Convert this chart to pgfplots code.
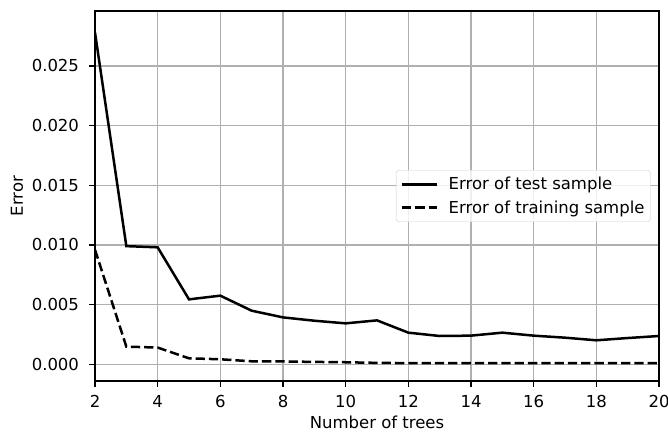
\documentclass[border=0pt]{standalone}
\usepackage{fontspec}
\setmainfont{DejaVu Sans}
\usepackage{pgfplots}
\pgfplotsset{compat=1.18}

\definecolor{gridgray}{HTML}{B0B0B0}
\definecolor{legedge}{HTML}{CCCCCC}

\pgfplotstableread{
n test training
2 0.0278 0.0096
3 0.0099 0.00148
4 0.0098 0.0014
5 0.00544 0.0005
6 0.00575 0.00042
7 0.00449 0.00025
8 0.00393 0.00024
9 0.00365 0.0002
10 0.00343 0.00017
11 0.00368 0.00012
12 0.00265 0.0001
13 0.00237 0.0001
14 0.0024 0.0001
15 0.00265 0.0001
16 0.0024 0.0001
17 0.00223 0.0001
18 0.00201 0.0001
19 0.0022 0.0001
20 0.00237 0.0001
}\errtable

\newcommand{\lblfont}{\fontsize{16.5bp}{19bp}\selectfont}

\begin{document}
\begin{tikzpicture}
\begin{axis}[
  at={(0,0)}, anchor=south west,
  scale only axis,
  width=564bp, height=370bp,
  xmin=2, xmax=20,
  ymin=-0.0014, ymax=0.0296,
  xtick={2,4,...,20},
  ytick={0,0.005,0.01,0.015,0.02,0.025},
  xtick pos=bottom, ytick pos=left,
  scaled y ticks=false,
  /pgf/number format/assume math mode=true,
  yticklabel style={/pgf/number format/fixed, /pgf/number format/fixed zerofill,
    /pgf/number format/precision=3},
  tick label style={font=\lblfont, inner sep=0pt},
  xticklabel style={anchor=north, yshift=-8bp},
  yticklabel style={anchor=east, xshift=-10bp},
  tick align=outside,
  major tick length=5.8bp,
  tick style={black, line width=1.33bp},
  axis line style={black, line width=1.33bp},
  grid=major,
  grid style={gridgray, line width=1.33bp},
  xlabel={Number of trees},
  ylabel={Error},
  label style={font=\lblfont},
  xlabel style={at={(axis description cs:0.5,0)}, anchor=base, yshift=-47bp},
  ylabel style={at={(axis description cs:0,0.5)}, anchor=center, yshift=78bp},
  legend cell align=left,
  legend style={at={(axis description cs:1,0.5)}, anchor=east, xshift=-8.3bp,
    draw=legedge, rounded corners=3bp,
    fill=white, fill opacity=0.8, text opacity=1,
    font=\lblfont, inner xsep=4.5bp, inner ysep=5.5bp, row sep=6.5bp,
    nodes={inner sep=1.5bp}},
  legend image code/.code={\draw[#1, line width=2.8bp, sharp corners] (0bp,0bp) -- (35bp,0bp); \path (44bp,0bp);},
]
\addplot[black, line width=2.5bp] table[x=n, y=test] {\errtable};
\addlegendentry{Error of test sample}
\addplot[black, line width=2.5bp, dash pattern=on 9.3bp off 4bp] table[x=n, y=training] {\errtable};
\addlegendentry{Error of training sample}
\end{axis}
\pgfresetboundingbox
\path[use as bounding box] (-95bp,-51bp) rectangle (573bp,381bp);
\end{tikzpicture}
\end{document}
